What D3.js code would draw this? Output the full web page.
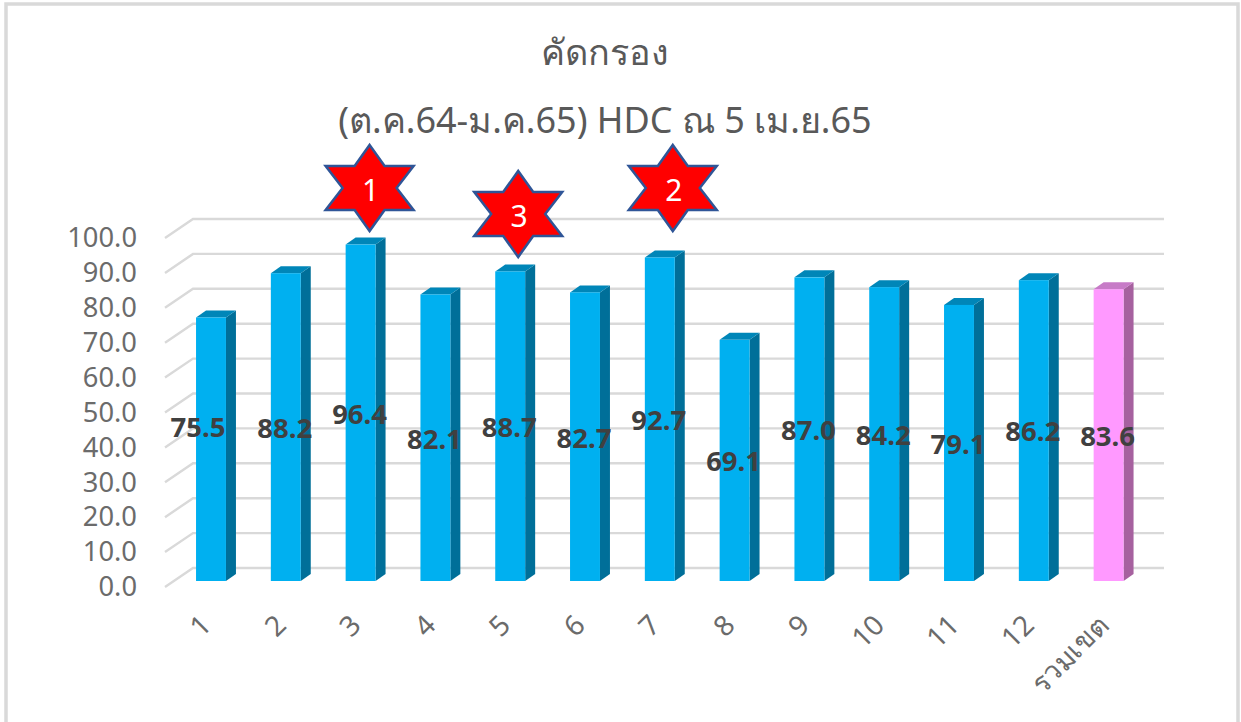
<!DOCTYPE html>
<html><head><meta charset="utf-8">
<script src="https://cdn.jsdelivr.net/npm/d3@7"></script>
<style>html,body{margin:0;padding:0;background:#fff}svg{display:block}text{font-family:"Noto Sans","Open Sans",sans-serif}</style>
</head><body><div id="c"></div>
<script>
const categories=["1","2","3","4","5","6","7","8","9","10","11","12","รวมเขต"];
const values=[75.5,88.2,96.4,82.1,88.7,82.7,92.7,69.1,87.0,84.2,79.1,86.2,83.6];
const yTicks=[0,10,20,30,40,50,60,70,80,90,100];
const titleLines=["คัดกรอง","(ต.ค.64-ม.ค.65) HDC ณ 5 เม.ย.65"];
const rankLabels=["1","3","2"];
const rankCategories=["3","5","7"];

const W=1241,H=722;
const svg=d3.select("#c").append("svg").attr("width",W).attr("height",H);
svg.append("rect").attr("x",6).attr("y",4).attr("width",1232).attr("height",740).attr("fill","#fff").attr("stroke","#d9d9d9").attr("stroke-width",3.5);

const x=d3.scaleBand().domain(categories).range([173.6,1146]).paddingInner(0.6).paddingOuter(0.3);
const y=d3.scaleLinear().domain([0,100]).range([581,232]);
const depthX=10,depthY=7;
const wallDY=13,floorDY=6;

// gridlines: floor diagonal + back wall
const grid=svg.append("g").attr("fill","none").attr("stroke","#d9d9d9").attr("stroke-width",2.4);
yTicks.forEach(t=>{
  const yb=y(t)-wallDY;
  grid.append("path").attr("d",d3.line()([[165,yb+19],[193,yb],[1164,yb]]));
});

// axis labels
const yAxisScale=y.copy().range([y(0)+floorDY,y(100)+floorDY]);
const gy=svg.append("g").attr("transform","translate(137,0)").call(d3.axisLeft(yAxisScale).tickValues(yTicks).tickFormat(d3.format(".1f")).tickSize(0).tickPadding(0));
gy.select(".domain").remove();
gy.selectAll("text").attr("font-size",27.3).attr("fill","#6b6b6b").style("font-family",'"Noto Sans"');

const gx=svg.append("g").attr("transform","translate(0,620)").call(d3.axisBottom(x).tickSize(0).tickPadding(0));
gx.select(".domain").remove();
gx.selectAll("text").attr("font-size",28).attr("fill","#6b6b6b")
  .attr("text-anchor","end").attr("dy","0.35em").attr("y",0)
  .attr("transform",`translate(-5,0) rotate(-45)`);

// bars
const bars=svg.append("g").selectAll("g").data(categories).join("g");
const col=i=>i===categories.length-1?{f:"#ff99ff",t:"#c77bc7",s:"#a6619f"}:{f:"#00b0f0",t:"#0086b8",s:"#006f99"};
bars.each(function(c,i){
  const g=d3.select(this),x0=x(c),x1=x0+x.bandwidth(),yt=y(values[i]),yb=y(0),k=col(i);
  g.append("path").attr("fill",k.s).attr("d",d3.line()([[x1,yt],[x1+depthX,yt-depthY],[x1+depthX,yb-depthY],[x1,yb]]));
  g.append("path").attr("fill",k.t).attr("d",d3.line()([[x0,yt],[x0+depthX,yt-depthY],[x1+depthX,yt-depthY],[x1,yt]]));
  g.append("rect").attr("x",x0).attr("y",yt).attr("width",x.bandwidth()).attr("height",yb-yt).attr("fill",k.f);
});

// data labels (centred on the bar; the first was dragged up and left in the original)
svg.append("g").selectAll("text").data(categories).join("text")
  .attr("x",(c,i)=>x(c)+x.bandwidth()/2+(i===0?-13:-1))
  .attr("y",(c,i)=>y(values[i]/2)+(i===0?-22:1))
  .attr("dy","0.36em").attr("text-anchor","middle")
  .attr("font-size",27.5).attr("font-weight",700).attr("fill","#404040")
  .text((c,i)=>values[i].toFixed(1));

// titles
svg.append("g").selectAll("text").data(titleLines).join("text")
  .attr("x",605).attr("y",(d,i)=>i?133:65).attr("text-anchor","middle")
  .attr("font-size",36).attr("fill","#595959").text(d=>d);

// stars
const starNudge=[9,8,13], starY=[188,214,188];
const starAt=(cx,cy)=>{
  const a=44,b=22,c=43;
  return [[0,-c],[15,-b],[a,-b],[27,0],[a,b],[15,b],[0,c],[-15,b],[-a,b],[-27,0],[-a,-b],[-15,-b]].map(p=>[cx+p[0],cy+p[1]]);
};
rankCategories.forEach((c,i)=>{
  const cx=x(c)+x.bandwidth()/2+starNudge[i],cy=starY[i];
  svg.append("path").attr("d",d3.line().curve(d3.curveLinearClosed)(starAt(cx,cy))).attr("fill","#ff0000").attr("stroke","#2f5597").attr("stroke-width",2.5).attr("stroke-linejoin","miter");
  svg.append("text").attr("x",cx+1).attr("y",cy+2).attr("dy","0.36em").attr("text-anchor","middle").attr("font-size",30).attr("fill","#fff").text(rankLabels[i]);
});
</script></body></html>
